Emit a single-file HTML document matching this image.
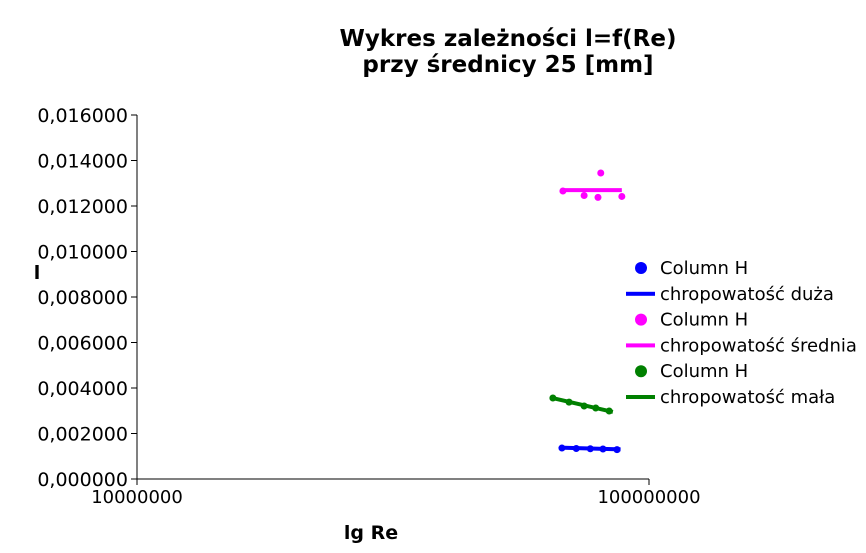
<!DOCTYPE html>
<html><head><meta charset="utf-8"><style>
body{margin:0;background:#fff;width:866px;height:548px;overflow:hidden}
svg text{font-family:"DejaVu Sans","Liberation Sans",sans-serif}
</style></head><body>
<svg id="chart" width="866" height="548" xmlns="http://www.w3.org/2000/svg">
<text x="508" y="46" font-size="23" font-weight="bold" text-anchor="middle"><tspan x="508">Wykres zależności l=f(Re)</tspan><tspan x="508" dy="26">przy średnicy 25 [mm]</tspan></text>
<text x="37" y="279" font-size="19" font-weight="bold" text-anchor="middle">l</text>
<text x="371" y="539" font-size="19" font-weight="bold" text-anchor="middle">lg Re</text>
<g id="axes"></g><g id="marks"></g><g id="legend"></g>
</svg>
<script>
const yTicks=[0,0.002,0.004,0.006,0.008,0.010,0.012,0.014,0.016];
const yTickLabels=["0,000000","0,002000","0,004000","0,006000","0,008000","0,010000","0,012000","0,014000","0,016000"];
const xTicks=[1e7,1e8];
const xTickLabels=["10000000","100000000"];
const blueX=[6.76e7,7.21e7,7.68e7,8.13e7,8.66e7];
const blueY=[0.00136,0.00134,0.00133,0.00132,0.00129];
const blueLineX=[6.7e7,8.8e7];
const blueLineY=[0.00138,0.00130];
const magX=[6.79e7,7.47e7,7.95e7,8.05e7,8.85e7];
const magY=[0.01266,0.01246,0.01238,0.01345,0.01242];
const magLineX=[6.76e7,8.85e7];
const magLineY=[0.01270,0.01270];
const greenX=[6.49e7,6.98e7,7.47e7,7.87e7,8.36e7];
const greenY=[0.00356,0.00338,0.00321,0.00312,0.00299];
const greenLineX=[6.45e7,8.5e7];
const greenLineY=[0.00357,0.00295];
const legendLabels=["Column H","chropowatość duża","Column H","chropowatość średnia","Column H","chropowatość mała"];
const legendColors=["#0000ff","#0000ff","#ff00ff","#ff00ff","#008000","#008000"];
const NS="http://www.w3.org/2000/svg";
const X0=137,X1=649,Y0=479,Y1=115;
const xs=v=>X0+(Math.log10(v)-7)*(X1-X0);
const ys=v=>Y0-v/0.016*(Y0-Y1);
function mk(t,a,p){const e=document.createElementNS(NS,t);for(const k in a)e.setAttribute(k,a[k]);p.appendChild(e);return e;}
const axes=document.getElementById('axes'),marks=document.getElementById('marks'),leg=document.getElementById('legend');
let a=mk('line',{x1:X0,y1:Y1,x2:X0,y2:Y0,stroke:'#000'},axes);


a=mk('line',{x1:X0,y1:Y0,x2:X1,y2:Y0,stroke:'#000'},axes);


yTicks.forEach((v,i)=>{const y=ys(v);
 mk('line',{x1:X0-6,y1:y,x2:X0,y2:y,stroke:'#000'},axes);
 const t=mk('text',{x:128,y:y+7,'font-size':19,'text-anchor':'end'},axes);t.textContent=yTickLabels[i];
 
 });
xTicks.forEach((v,i)=>{const x=xs(v);
 mk('line',{x1:x,y1:Y0,x2:x,y2:Y0+6,stroke:'#000'},axes);
 const t=mk('text',{x:x,y:Y0+24,'font-size':18,'text-anchor':'middle'},axes);t.textContent=xTickLabels[i];
 
 });
function series(X,Y,LX,LY,c,name){
 const l=mk('line',{x1:xs(LX[0]),y1:ys(LY[0]),x2:xs(LX[1]),y2:ys(LY[1]),stroke:c,'stroke-width':4},marks);
 
 
 X.forEach((x,i)=>{const p=mk('circle',{cx:xs(x),cy:ys(Y[i]),r:3.5,fill:c},marks);
  
  });
}
series(magX,magY,magLineX,magLineY,'#ff00ff','srednia');
series(greenX,greenY,greenLineX,greenLineY,'#008000','mala');
series(blueX,blueY,blueLineX,blueLineY,'#0000ff','duza');
legendLabels.forEach((s,i)=>{const y=268+i*25.8,c=legendColors[i];
 if(i%2==0)mk('circle',{cx:641,cy:y,r:6,fill:c},leg);else mk('rect',{x:626,y:y-2,width:29,height:4,fill:c},leg);
 const t=mk('text',{x:660,y:y+6,'font-size':18},leg);t.textContent=s;
 
 });
</script>
</body></html>
